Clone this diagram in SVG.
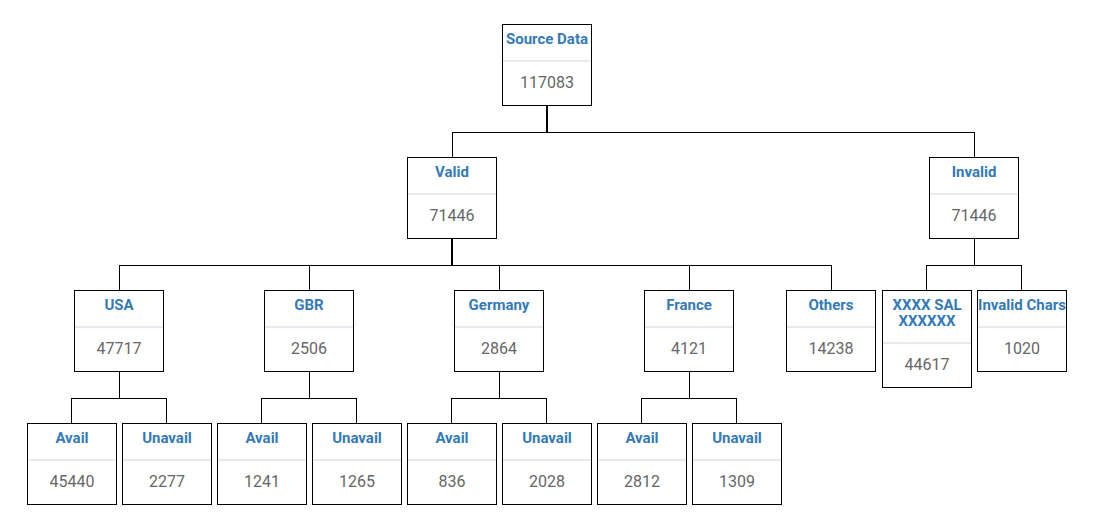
<svg xmlns="http://www.w3.org/2000/svg" width="1097" height="530" viewBox="0 0 1097 530">
<style>
.box{fill:#fff;stroke:#000;stroke-width:1}
.div{stroke:#e6e9ed;stroke-width:2}
.t{font-family:Roboto,"Liberation Sans",sans-serif;font-size:15px;font-weight:bold;fill:#337ab7;text-anchor:middle}
.v{font-family:Roboto,"Liberation Sans",sans-serif;font-size:16px;fill:#666;text-anchor:middle}
.c{fill:none;stroke:#000;stroke-width:1}
.ct{fill:none;stroke:#000;stroke-width:2}
</style>
<rect width="1097" height="530" fill="#fff"/>
<g id="connectors">
<path class="ct" d="M547 106V132"/>
<path class="c" d="M452 132.5H974.5M452.5 132V157M974.5 132V157"/>
<path class="ct" d="M452 239V265"/>
<path class="c" d="M119.5 265.5H831.5M119.5 265V290M309.5 265V290M499.5 265V290M689.5 265V290M831.5 265V290"/>
<path class="c" d="M974.5 239V265.5M926.5 265.5H1021.5M926.5 265V290M1021.5 265V290"/>
<path class="c" d="M119.5 372V398.5M71.5 398.5H166.5M71.5 398V423M166.5 398V423"/>
<path class="c" d="M309.5 372V398.5M261.5 398.5H356.5M261.5 398V423M356.5 398V423"/>
<path class="c" d="M499.5 372V398.5M451.5 398.5H546.5M451.5 398V423M546.5 398V423"/>
<path class="c" d="M689.5 372V398.5M641.5 398.5H736.5M641.5 398V423M736.5 398V423"/>
</g>
<g id="source"><rect class="box" x="502.5" y="24.5" width="89" height="81"/><line class="div" x1="503" y1="61" x2="591" y2="61"/><text class="t" x="547" y="44">Source Data</text><text class="v" x="547" y="88">117083</text></g>
<g id="valid"><rect class="box" x="407.5" y="157.5" width="89" height="81"/><line class="div" x1="408" y1="194" x2="496" y2="194"/><text class="t" x="452" y="177">Valid</text><text class="v" x="452" y="221">71446</text></g>
<g id="invalid"><rect class="box" x="929.5" y="157.5" width="89" height="81"/><line class="div" x1="930" y1="194" x2="1018" y2="194"/><text class="t" x="974" y="177">Invalid</text><text class="v" x="974" y="221">71446</text></g>
<g id="usa"><rect class="box" x="74.5" y="290.5" width="89" height="81"/><line class="div" x1="75" y1="327" x2="163" y2="327"/><text class="t" x="119" y="310">USA</text><text class="v" x="119" y="354">47717</text></g>
<g id="gbr"><rect class="box" x="264.5" y="290.5" width="89" height="81"/><line class="div" x1="265" y1="327" x2="353" y2="327"/><text class="t" x="309" y="310">GBR</text><text class="v" x="309" y="354">2506</text></g>
<g id="germany"><rect class="box" x="454.5" y="290.5" width="89" height="81"/><line class="div" x1="455" y1="327" x2="543" y2="327"/><text class="t" x="499" y="310">Germany</text><text class="v" x="499" y="354">2864</text></g>
<g id="france"><rect class="box" x="644.5" y="290.5" width="89" height="81"/><line class="div" x1="645" y1="327" x2="733" y2="327"/><text class="t" x="689" y="310">France</text><text class="v" x="689" y="354">4121</text></g>
<g id="others"><rect class="box" x="786.5" y="290.5" width="89" height="81"/><line class="div" x1="787" y1="327" x2="875" y2="327"/><text class="t" x="831" y="310">Others</text><text class="v" x="831" y="354">14238</text></g>
<g id="xxxx"><rect class="box" x="882.5" y="290.5" width="89" height="97"/><line class="div" x1="883" y1="343" x2="971" y2="343"/><text class="t" x="927" y="310">XXXX SAL</text><text class="t" x="927" y="326">XXXXXX</text><text class="v" x="927" y="370">44617</text></g>
<g id="invalidchars"><rect class="box" x="977.5" y="290.5" width="89" height="81"/><line class="div" x1="978" y1="327" x2="1066" y2="327"/><text class="t" x="1022" y="310">Invalid Chars</text><text class="v" x="1022" y="354">1020</text></g>
<g id="usa-avail"><rect class="box" x="27.5" y="423.5" width="89" height="81"/><line class="div" x1="28" y1="460" x2="116" y2="460"/><text class="t" x="72" y="443">Avail</text><text class="v" x="72" y="487">45440</text></g>
<g id="usa-unavail"><rect class="box" x="122.5" y="423.5" width="89" height="81"/><line class="div" x1="123" y1="460" x2="211" y2="460"/><text class="t" x="167" y="443">Unavail</text><text class="v" x="167" y="487">2277</text></g>
<g id="gbr-avail"><rect class="box" x="217.5" y="423.5" width="89" height="81"/><line class="div" x1="218" y1="460" x2="306" y2="460"/><text class="t" x="262" y="443">Avail</text><text class="v" x="262" y="487">1241</text></g>
<g id="gbr-unavail"><rect class="box" x="312.5" y="423.5" width="89" height="81"/><line class="div" x1="313" y1="460" x2="401" y2="460"/><text class="t" x="357" y="443">Unavail</text><text class="v" x="357" y="487">1265</text></g>
<g id="germany-avail"><rect class="box" x="407.5" y="423.5" width="89" height="81"/><line class="div" x1="408" y1="460" x2="496" y2="460"/><text class="t" x="452" y="443">Avail</text><text class="v" x="452" y="487">836</text></g>
<g id="germany-unavail"><rect class="box" x="502.5" y="423.5" width="89" height="81"/><line class="div" x1="503" y1="460" x2="591" y2="460"/><text class="t" x="547" y="443">Unavail</text><text class="v" x="547" y="487">2028</text></g>
<g id="france-avail"><rect class="box" x="597.5" y="423.5" width="89" height="81"/><line class="div" x1="598" y1="460" x2="686" y2="460"/><text class="t" x="642" y="443">Avail</text><text class="v" x="642" y="487">2812</text></g>
<g id="france-unavail"><rect class="box" x="692.5" y="423.5" width="89" height="81"/><line class="div" x1="693" y1="460" x2="781" y2="460"/><text class="t" x="737" y="443">Unavail</text><text class="v" x="737" y="487">1309</text></g>
</svg>
